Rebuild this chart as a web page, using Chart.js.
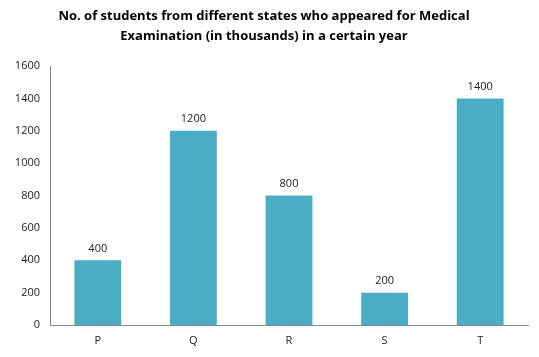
<!DOCTYPE html>
<html>
<head>
<meta charset="utf-8">
<script src="https://cdn.jsdelivr.net/npm/chart.js@4"></script>
<style>
html,body{margin:0;padding:0;background:#fff;}
#wrap{width:539px;height:357px;}
</style>
</head>
<body>
<div id="wrap"><canvas id="c" width="539" height="357"></canvas></div>
<script>
const categories = ["P", "Q", "R", "S", "T"];
const students = [400, 1200, 800, 200, 1400];
const yTicks = [0, 200, 400, 600, 800, 1000, 1200, 1400, 1600];
const titleLines = ["No. of students from different states who appeared for Medical", "Examination (in thousands) in a certain year"];

const valueLabels = {
  id: 'valueLabels',
  afterDatasetsDraw(chart) {
    const ctx = chart.ctx;
    const meta = chart.getDatasetMeta(0);
    ctx.save();
    ctx.font = '11px "Open Sans", sans-serif';
    ctx.fillStyle = '#222';
    ctx.textAlign = 'center';
    ctx.textBaseline = 'bottom';
    meta.data.forEach((bar, i) => {
      ctx.fillText(String(students[i]), bar.x, bar.y - 6);
    });
    ctx.restore();
  }
};

new Chart(document.getElementById('c'), {
  type: 'bar',
  data: {
    labels: categories,
    datasets: [{
      data: students,
      backgroundColor: '#4BACC6',
      borderWidth: 0,
      barPercentage: 0.49,
      categoryPercentage: 1.0
    }]
  },
  options: {
    responsive: false,
    animation: false,
    events: [],
    layout: { padding: { left: 0, right: 11, top: 0, bottom: 0 } },
    plugins: {
      legend: { display: false },
      tooltip: { enabled: false },
      title: {
        display: true,
        text: titleLines,
        color: '#000',
        font: { family: '"Open Sans", sans-serif', size: 13, weight: 'bold', lineHeight: 1.5 },
        padding: { top: 7, bottom: 20 }
      }
    },
    scales: {
      x: {
        grid: { display: false, drawTicks: false },
        border: { display: true, color: '#888', width: 1 },
        ticks: { color: '#222', font: { family: '"Open Sans", sans-serif', size: 11 }, padding: 9 },
        afterFit(s) { s.height = 32; }
      },
      y: {
        min: 0, max: 1600,
        afterBuildTicks(s) { s.ticks = yTicks.map(v => ({ value: v })); },
        grid: { display: false, drawTicks: true, tickLength: 4, tickColor: '#888' },
        border: { display: true, color: '#888', width: 1 },
        ticks: { color: '#222', font: { family: '"Open Sans", sans-serif', size: 11 }, padding: 6, callback: v => String(v) },
        afterFit(s) { s.width = 50; }
      }
    }
  },
  plugins: [valueLabels]
});
</script>
</body>
</html>
